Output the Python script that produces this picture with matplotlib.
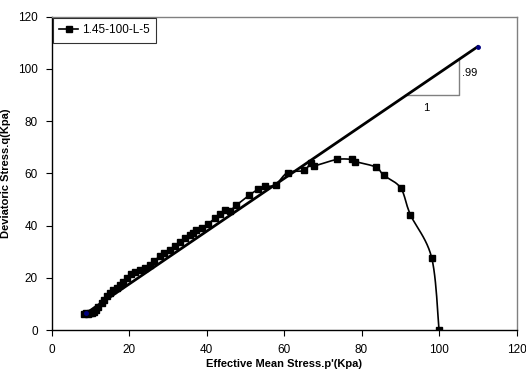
import numpy as np
import matplotlib
matplotlib.use("Agg")
import matplotlib.pyplot as plt

plt.rcParams['font.family'] = ['Liberation Sans', 'DejaVu Sans']

# test data
p_eff = [8.5, 9.0, 9.5, 10.0, 10.5, 11.0, 11.5, 12.0, 12.9, 13.5, 14.3, 15.0,
         15.9, 16.8, 17.6, 18.5, 19.5, 20.6, 21.5, 22.8, 24.0, 25.4, 26.5, 27.9,
         29.0, 30.5, 31.8, 33.1, 34.4, 35.7, 36.5, 37.4, 38.7, 40.4, 42.1, 43.5,
         44.7, 46.0, 47.7, 51.0, 53.3, 55.0, 57.8, 60.9, 65.2, 66.9, 67.8, 73.6,
         77.6, 78.4, 83.7, 85.7, 90.1, 92.6, 98.1, 100.0]
q_dev = [6.3, 6.5, 6.3, 6.4, 6.6, 7.0, 7.8, 8.8, 10.2, 11.5, 13.0, 14.2,
         15.3, 16.3, 17.3, 18.6, 20.0, 21.3, 22.3, 23.0, 23.8, 25.1, 26.5, 28.3,
         29.5, 30.8, 32.3, 33.6, 35.2, 36.3, 37.2, 38.3, 39.0, 40.6, 42.8, 44.3,
         46.0, 45.7, 47.8, 51.6, 53.9, 55.0, 55.6, 60.3, 61.1, 64.1, 62.9, 65.3,
         65.3, 64.5, 62.4, 59.3, 54.4, 44.2, 27.7, 0.0]
series_name = '1.45-100-L-5'

# failure line end points and slope label
line_p = [9.0, 110.0]
line_q = [6.5, 108.5]
slope_label = '.99'


def smooth(x, y, n=12):
    # catmull-rom like the excel "smoothed line"
    x = np.asarray(x, float)
    y = np.asarray(y, float)
    pts = np.column_stack([x, y])
    pts = np.vstack([pts[0], pts, pts[-1]])
    out = []
    t = np.linspace(0, 1, n, endpoint=False)
    for i in range(1, len(pts) - 2):
        p0, p1, p2, p3 = pts[i - 1], pts[i], pts[i + 1], pts[i + 2]
        for tt in t:
            t2, t3 = tt * tt, tt * tt * tt
            out.append(0.5 * ((2 * p1) + (-p0 + p2) * tt +
                              (2 * p0 - 5 * p1 + 4 * p2 - p3) * t2 +
                              (-p0 + 3 * p1 - 3 * p2 + p3) * t3))
    out.append(pts[-2])
    out = np.array(out)
    return out[:, 0], out[:, 1]


fig = plt.figure(figsize=(5.26, 3.76), dpi=100)
ax = fig.add_axes([0.098, 0.122, 0.884, 0.834])

sx, sy = smooth(p_eff, q_dev)
ax.plot(sx, sy, color='black', lw=1.2, zorder=3)
ax.plot(p_eff, q_dev, ls='none', marker='s', ms=4.5, color='black', zorder=4)
# legend proxy
ax.plot([], [], color='black', lw=1.2, marker='s', ms=4.2, label=series_name)

# failure line
ax.plot(line_p, line_q, color='black', lw=2, zorder=5)
ax.plot(line_p, line_q, ls='none', marker='o', ms=2.5, color='#000080', zorder=6)

# slope triangle
ax.plot([91.2, 105.1, 105.1], [89.8, 89.8, 103.5], color='#808080', lw=1, zorder=2)
ax.text(105.8, 98.5, slope_label, fontsize=8, va='center', ha='left')
ax.text(96.8, 85.0, '1', fontsize=8, va='center', ha='center')

ax.set_xlim(0, 120)
ax.set_ylim(0, 120)
ax.set_xticks(np.arange(0, 121, 20))
ax.set_yticks(np.arange(0, 121, 20))
ax.tick_params(direction='out', length=4, width=0.8, labelsize=8.5, colors='black', pad=6)

for s in ['top', 'right']:
    ax.spines[s].set_color('#808080')
    ax.spines[s].set_linewidth(1)
for s in ['left', 'bottom']:
    ax.spines[s].set_color('black')
    ax.spines[s].set_linewidth(1)

ax.set_xlabel("Effective Mean Stress.p'(Kpa)", fontsize=8, fontweight='bold', labelpad=2)
ax.set_ylabel('Deviatoric Stress.q(Kpa)', fontsize=8, fontweight='bold', labelpad=5)

leg = ax.legend(loc='upper left', bbox_to_anchor=(0.0, 1.0), fontsize=8.5,
                frameon=True, fancybox=False, borderaxespad=0.1,
                handlelength=1.6, handletextpad=0.3, borderpad=0.55)
leg.get_frame().set_edgecolor('black')
leg.get_frame().set_linewidth(0.8)

fig.savefig('out.png', dpi=100)
